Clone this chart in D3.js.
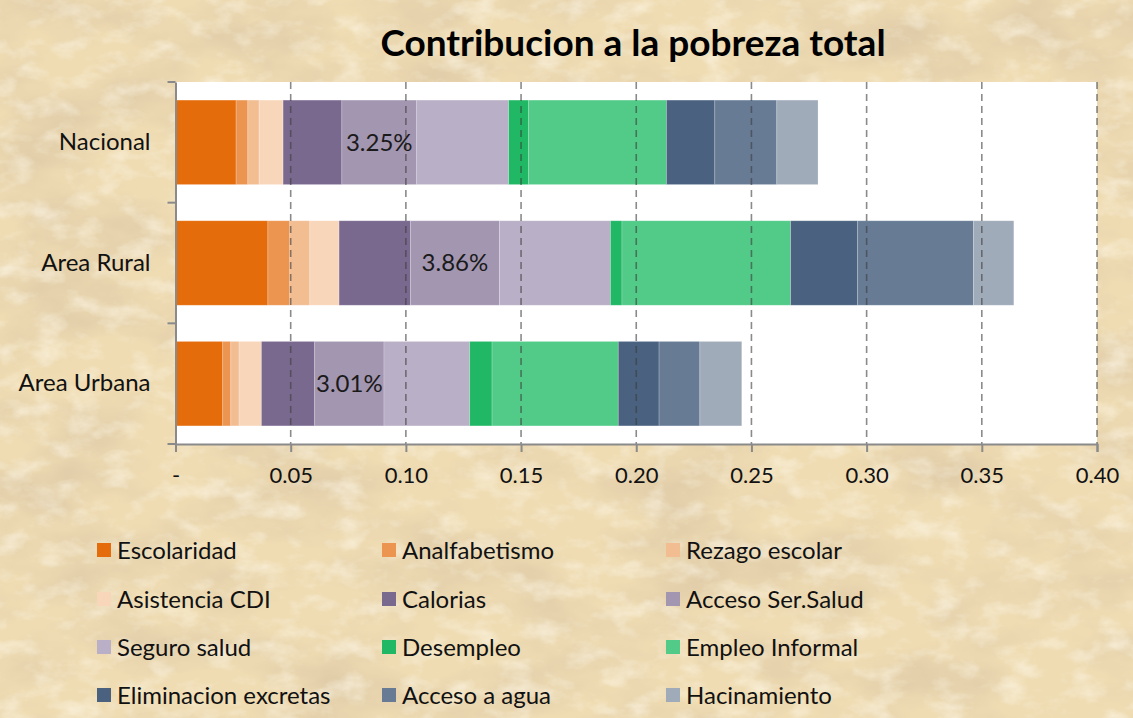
<!DOCTYPE html>
<html>
<head>
<meta charset="utf-8">
<script src="https://cdn.jsdelivr.net/npm/d3@7"></script>
<style>
  body { margin: 0; padding: 0; background: #EEDCB3; }
  svg { display: block; }
</style>
</head>
<body>
<svg id="chart"></svg>
<script>
// categories and series
var categories = ["Nacional", "Area Rural", "Area Urbana"];
var seriesNames = ["Escolaridad", "Analfabetismo", "Rezago escolar", "Asistencia CDI",
  "Calorias", "Acceso Ser.Salud", "Seguro salud", "Desempleo", "Empleo Informal",
  "Eliminacion excretas", "Acceso a agua", "Hacinamiento"];
var colors = ["#E46C0A", "#EC9550", "#F3BD92", "#F8D6BA", "#7A698F", "#A396B1",
  "#B9AFC6", "#20B864", "#52CA88", "#4A6280", "#677B95", "#A0ABBA"];

// values per series, order = categories
var escolaridad   = [0.0263, 0.0401, 0.0205];
var analfabetismo = [0.0051, 0.0095, 0.0035];
var rezago        = [0.0049, 0.0087, 0.0036];
var asistencia    = [0.0104, 0.0127, 0.0097];
var calorias      = [0.0255, 0.0310, 0.0231];
var accesoSalud   = [0.0325, 0.0386, 0.0301];
var seguro        = [0.0399, 0.0482, 0.0372];
var desempleo     = [0.0087, 0.0050, 0.0097];
var empleoInf     = [0.0598, 0.0732, 0.0548];
var eliminacion   = [0.0210, 0.0291, 0.0177];
var agua          = [0.0269, 0.0503, 0.0177];
var hacinamiento  = [0.0179, 0.0175, 0.0182];

var xTicks = [0, 0.05, 0.10, 0.15, 0.20, 0.25, 0.30, 0.35, 0.40];
var xTickLabels = ["-", "0.05", "0.10", "0.15", "0.20", "0.25", "0.30", "0.35", "0.40"];

var allSeries = [escolaridad, analfabetismo, rezago, asistencia, calorias, accesoSalud,
  seguro, desempleo, empleoInf, eliminacion, agua, hacinamiento];

var rows = categories.map(function(c, i) {
  var r = {cat: c};
  seriesNames.forEach(function(s, j) { r[s] = allSeries[j][i]; });
  return r;
});

var W = 1133, H = 718;
var svg = d3.select("#chart").attr("width", W).attr("height", H);
var font = "Lato, 'Open Sans', sans-serif";

// parchment background
var defs = svg.append("defs");
var f = defs.append("filter").attr("id", "paper").attr("x", 0).attr("y", 0)
  .attr("width", 1).attr("height", 1);
f.append("feTurbulence").attr("type", "fractalNoise")
  .attr("baseFrequency", "0.008 0.015").attr("numOctaves", 5).attr("seed", 7).attr("result", "n");
f.append("feColorMatrix").attr("in", "n").attr("type", "matrix")
  .attr("values", "0 0 0 0 0.72  0 0 0 0 0.58  0 0 0 0 0.38  1.8 0 0 0 -0.72");
var f2 = defs.append("filter").attr("id", "light").attr("x", 0).attr("y", 0)
  .attr("width", 1).attr("height", 1);
f2.append("feTurbulence").attr("type", "fractalNoise")
  .attr("baseFrequency", "0.03 0.05").attr("numOctaves", 4).attr("seed", 21).attr("result", "n");
f2.append("feColorMatrix").attr("in", "n").attr("type", "matrix")
  .attr("values", "0 0 0 0 1  0 0 0 0 0.97  0 0 0 0 0.88  0 1.3 0 0 -0.62");
svg.append("rect").attr("width", W).attr("height", H).attr("fill", "#EFDCB3");
svg.append("rect").attr("width", W).attr("height", H).attr("filter", "url(#paper)");
svg.append("rect").attr("width", W).attr("height", H).attr("filter", "url(#light)");

var margin = {top: 82, left: 175.5, right: 36, bottom: 274};
var x = d3.scaleLinear().domain([0, 0.4]).range([margin.left, W - margin.right]);
var y = d3.scaleBand().domain(categories).range([margin.top, H - margin.bottom])
  .paddingInner(0.3).paddingOuter(0.15);
var y0 = y.range()[0], y1 = y.range()[1];

// plot area
svg.append("rect").attr("x", x(0)).attr("y", y0)
  .attr("width", x(0.4) - x(0)).attr("height", y1 - y0).attr("fill", "#fff");

// title
svg.append("text").attr("x", 633).attr("y", 56).attr("text-anchor", "middle")
  .attr("font-family", font).attr("font-weight", "bold").attr("font-size", 37)
  .attr("fill", "#000").text("Contribucion a la pobreza total");

// bars
var stack = d3.stack().keys(seriesNames)(rows);
svg.append("g").selectAll("g").data(stack).join("g")
  .attr("fill", function(d, i) { return colors[i]; })
  .selectAll("rect").data(function(d) { return d; }).join("rect")
  .attr("x", function(d) { return x(d[0]); })
  .attr("y", function(d) { return y(d.data.cat); })
  .attr("width", function(d) { return x(d[1]) - x(d[0]); })
  .attr("height", y.bandwidth())
  .attr("stroke", "rgba(255,255,255,0.25)").attr("stroke-width", 0.8);

// dashed gridlines (on top of bars)
svg.append("g").selectAll("line").data(xTicks.slice(1)).join("line")
  .attr("x1", function(d) { return x(d); }).attr("x2", function(d) { return x(d); })
  .attr("y1", y0).attr("y2", y1)
  .attr("stroke", "rgba(60,60,60,0.6)").attr("stroke-width", 1.6)
  .attr("stroke-dasharray", "7,5");

// data labels: Acceso Ser.Salud segment
var accIdx = seriesNames.indexOf("Acceso Ser.Salud");
svg.append("g").selectAll("text").data(stack[accIdx]).join("text")
  .attr("x", function(d) { return (x(d[0]) + x(d[1])) / 2; })
  .attr("y", function(d) { return y(d.data.cat) + y.bandwidth() / 2; })
  .attr("dy", "0.35em").attr("text-anchor", "middle")
  .attr("font-family", font).attr("font-size", 24).attr("fill", "#1a1a1a")
  .text(function(d) { return d3.format(".2%")(d[1] - d[0]); });

// x axis
var xAxis = svg.append("g").attr("transform", "translate(0," + y1 + ")")
  .call(d3.axisBottom(x).tickValues(xTicks)
    .tickFormat(function(d, i) { return xTickLabels[i]; })
    .tickSizeOuter(0).tickSize(8).tickPadding(15));
xAxis.select(".domain").attr("stroke", "#8a8a8a").attr("stroke-width", 2);
xAxis.selectAll(".tick line").attr("stroke", "#8a8a8a").attr("stroke-width", 2);
xAxis.selectAll("text").attr("font-family", font).attr("font-size", 22).attr("fill", "#111");

// y axis
var yAxis = svg.append("g").attr("transform", "translate(" + x(0) + ",0)")
  .call(d3.axisLeft(y).tickSize(0).tickPadding(25));
yAxis.select(".domain").attr("stroke", "#8a8a8a").attr("stroke-width", 2);
yAxis.selectAll("text").attr("font-family", font).attr("font-size", 24).attr("fill", "#111");
var bounds = [y0].concat(categories.map(function(c) { return y(c) + y.bandwidth() + y.step() * y.paddingInner() / 2; }));
bounds[bounds.length - 1] = y1;
svg.append("g").selectAll("line").data(bounds).join("line")
  .attr("x1", x(0) - 8).attr("x2", x(0))
  .attr("y1", function(d) { return d; }).attr("y2", function(d) { return d; })
  .attr("stroke", "#8a8a8a").attr("stroke-width", 2);

// legend
var legX = [97, 382, 666], legY = [550, 599, 647, 695];
var leg = svg.append("g").selectAll("g").data(seriesNames).join("g")
  .attr("transform", function(d, i) {
    return "translate(" + legX[i % 3] + "," + legY[Math.floor(i / 3)] + ")";
  });
leg.append("rect").attr("x", 0).attr("y", -7).attr("width", 14).attr("height", 14)
  .attr("fill", function(d, i) { return colors[i]; });
leg.append("text").attr("x", 20).attr("dy", "0.36em")
  .attr("font-family", font).attr("font-size", 24).attr("fill", "#111")
  .text(function(d) { return d; });
</script>
</body>
</html>
